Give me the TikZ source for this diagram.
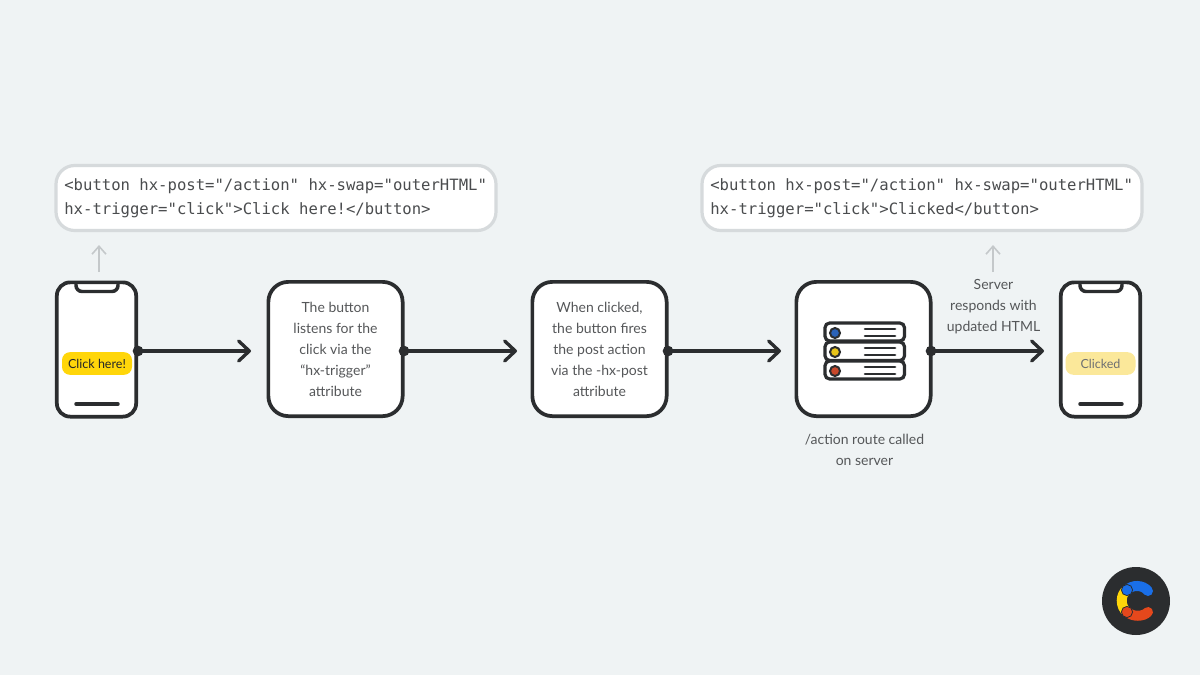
\documentclass[tikz,border=0pt]{standalone}
\usepackage{fontspec}
\setmainfont{Lato}
\newfontfamily\codefont{DejaVu Sans Mono}
\usetikzlibrary{arrows.meta}
\definecolor{bgc}{HTML}{EFF3F4}
\definecolor{ink}{HTML}{2B2D2F}
\definecolor{txt}{HTML}{555759}
\definecolor{codetxt}{HTML}{4A4C4E}
\definecolor{edge}{HTML}{D6DADC}
\definecolor{arrowgrey}{HTML}{C4C8CA}
\definecolor{btnyellow}{HTML}{FFD60A}
\definecolor{btnpale}{HTML}{FBE89A}
\definecolor{lblue}{HTML}{1A6FE8}
\definecolor{lyellow}{HTML}{FFD60A}
\definecolor{lred}{HTML}{E5481C}
\definecolor{rblue}{HTML}{2A62B8}
\definecolor{ryellow}{HTML}{E8C41A}
\definecolor{rred}{HTML}{C8482A}
\newcommand{\codeline}[1]{\raisebox{-0.75pt}{\spaceskip=0.602em\xspaceskip=0.602em #1}}
\tikzset{
  x=0.75pt,y=-0.75pt,
  codebox/.style={draw=edge,fill=white,line width=2.4pt,rounded corners=14pt,outer sep=0pt,
    minimum width=330pt,text width=317.5pt,inner xsep=6.25pt,minimum height=48.75pt,align=left,
    font=\codefont\fontsize{11.7pt}{18pt}\selectfont,text=codetxt},
  stepbox/.style={draw=ink,fill=white,line width=2.8pt,rounded corners=15pt,outer sep=0pt,
    minimum width=100.7pt,minimum height=100.7pt,inner sep=0pt,align=center,
    font=\fontsize{10.5pt}{15.75pt}\selectfont,text=txt},
  phone/.style={draw=ink,fill=white,line width=2.8pt,rounded corners=10pt,outer sep=0pt,
    minimum width=59.5pt,minimum height=100.7pt,inner sep=0pt},
  notch/.style={draw=ink,line width=2.6pt,rounded corners=4.5pt},
  homebar/.style={draw=ink,line width=2.6pt,line cap=round},
  btn/.style={rounded corners=6pt,minimum width=52.5pt,minimum height=17pt,inner sep=0pt,
    font=\fontsize{9.4pt}{12pt}\selectfont},
  dotnode/.style={circle,fill=ink,minimum size=8pt,inner sep=0pt,outer sep=0pt},
  conn/.style={draw=ink,line width=2.5pt,-{Straight Barb[length=8pt,width=15pt,line width=2.5pt,round]},line cap=round},
  upgrey/.style={draw=arrowgrey,line width=1.2pt,-{Straight Barb[length=6pt,width=10.5pt,line width=1.2pt]}},
  label/.style={align=center,font=\fontsize{10.5pt}{15.75pt}\selectfont,text=txt,inner sep=0pt},
  rack/.style={draw=ink,fill=white,line width=2.4pt,rounded corners=3.5pt},
  rackline/.style={draw=ink,line width=2pt,line cap=round},
  rackdot/.style={draw=ink,line width=1.5pt,circle,minimum size=7.5pt,inner sep=0pt},
  logoarc/.style={line width=7.5pt,line cap=round},
}
\begin{document}
\begin{tikzpicture}
\path[use as bounding box,fill=bgc] (0,0) rectangle (1200,675);

% code boxes
\node[codebox] (codeA) at (276,198) {\codeline{<button hx-post="/action" hx-swap="outerHTML"}\\\codeline{hx-trigger="click">Click here!</button>}};
\node[codebox] (codeB) at (922,198) {\codeline{<button hx-post="/action" hx-swap="outerHTML"}\\\codeline{hx-trigger="click">Clicked</button>}};

% phones
\node[phone] (phoneA) at (96.5,349.5) {};
\node[phone] (phoneB) at (1100.5,349.5) {};
\draw[notch] (76,283) -- (76,291.5) -- (118,291.5) -- (118,283);
\draw[notch] (1080,283) -- (1080,291.5) -- (1122,291.5) -- (1122,283);
\draw[homebar] (76,404) -- (118,404);
\draw[homebar] (1080,404) -- (1122,404);
\node[btn,fill=btnyellow,text=ink!85!black] (btnA) at (97,363.5) {Click here!};
\node[btn,fill=btnpale,text=txt!85] (btnB) at (1100.5,363.5) {Clicked};

% step boxes
\node[stepbox] (stepA) at (335.5,349) {The button\\listens for the\\click via the\\“hx-trigger”\\attribute};
\node[stepbox] (stepB) at (599.5,349) {When clicked,\\the button fires\\the post action\\via the -hx-post\\attribute};
\node[stepbox] (server) at (863.5,349) {};

% server icon
\draw[rack] (825,323) rectangle (904.5,341);
\draw[rack] (825,342) rectangle (904.5,360.5);
\draw[rack] (825,361) rectangle (904.5,379);
\node[rackdot,fill=rblue] (rdA) at (835,333) {};
\node[rackdot,fill=ryellow] (rdB) at (835,352) {};
\node[rackdot,fill=rred] (rdC) at (835,371) {};
\draw[rackline] (865,329) -- (895,329);
\draw[rackline] (865,336) -- (895,336);
\draw[rackline] (865,348) -- (895,348);
\draw[rackline] (865,355) -- (895,355);
\draw[rackline] (865,367) -- (895,367);
\draw[rackline] (865,374) -- (895,374);

% connectors
\node[dotnode] (dotA) at (138,351) {};
\node[dotnode] (dotB) at (404,351) {};
\node[dotnode] (dotC) at (668,351) {};
\node[dotnode] (dotD) at (931,351) {};
\coordinate (endA) at (251,351);
\coordinate (endB) at (517,351);
\coordinate (endC) at (781,351);
\coordinate (endD) at (1044,351);
\draw[conn] (dotA.center) -- (endA);
\draw[conn] (dotB.center) -- (endB);
\draw[conn] (dotC.center) -- (endC);
\draw[conn] (dotD.center) -- (endD);

% grey arrows
\coordinate (upAs) at (99,272);
\coordinate (upAe) at (99,245);
\coordinate (upBs) at (993,272);
\coordinate (upBe) at (993,245);
\draw[upgrey] (upAs) -- (upAe);
\draw[upgrey] (upBs) -- (upBe);

% labels
\node[label] (lblResp) at (993.5,307) {Server\\responds with\\updated HTML};
\node[label] (lblRoute) at (864.5,449.5) {/action route called\\on server};

% logo
\node[circle,fill=ink,minimum size=51pt,inner sep=0pt] (logo) at (1136,601) {};
\draw[logoarc,lyellow] (1127,590) .. controls (1120,594) and (1120,607) .. (1127,612);
\draw[logoarc,lred] (1148,612) .. controls (1143,617) and (1133,617) .. (1127,612);
\draw[logoarc,lblue] (1148,591) .. controls (1143,584.5) and (1132,584.5) .. (1127,590);
\draw[ink,line width=0.6pt,fill=lblue] (1127,590) circle (5.6);
\draw[ink,line width=0.6pt,fill=lred] (1127,612) circle (5.6);
\end{tikzpicture}
\end{document}
